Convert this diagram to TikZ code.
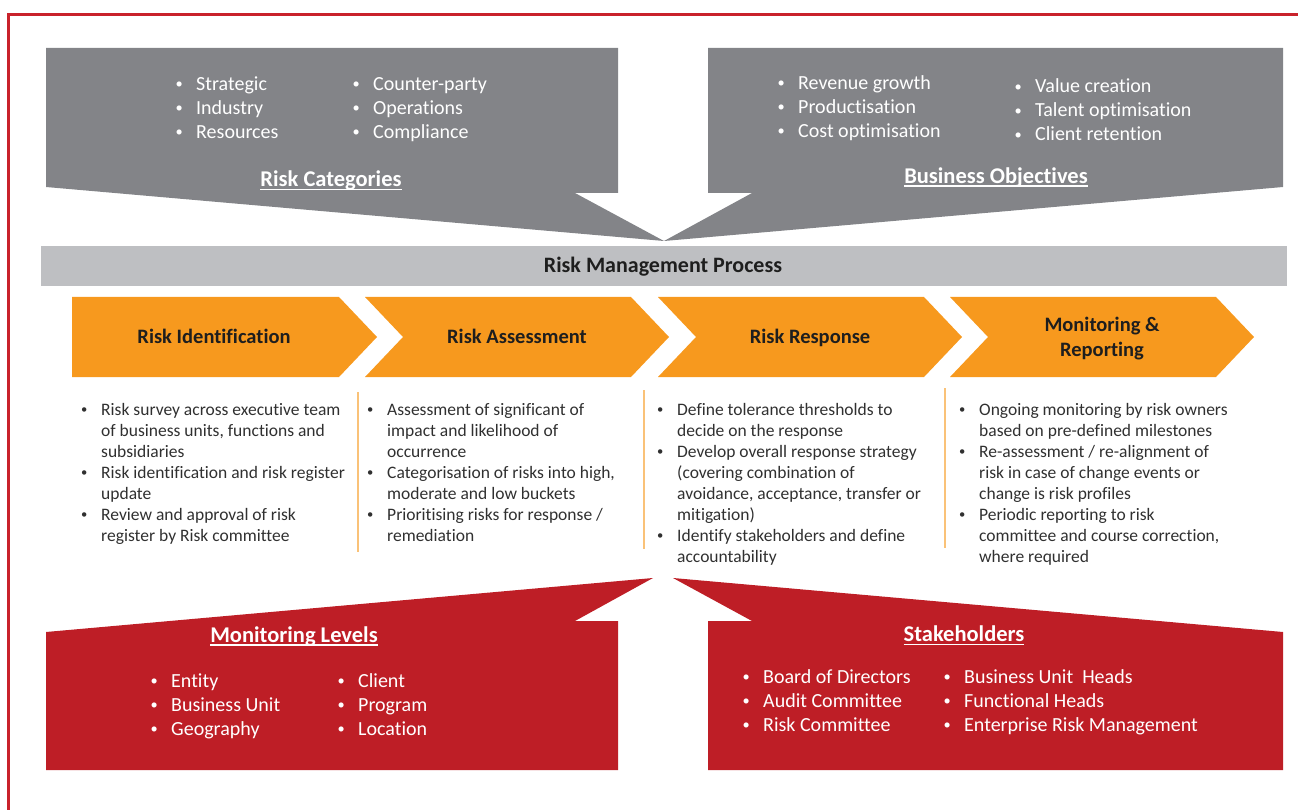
\documentclass[tikz,border=0pt]{standalone}
\usepackage{fontspec}
\setmainfont{Carlito}[Ligatures=NoCommon]
\usepackage{graphicx}
\usepackage{tikz}
\usepackage{xcolor}
\definecolor{slate}{HTML}{838488}
\definecolor{mist}{HTML}{BEBFC2}
\definecolor{tangerine}{HTML}{F7991E}
\definecolor{crimson}{HTML}{BE1E26}
\definecolor{framered}{HTML}{C9222B}
\definecolor{ink}{HTML}{1E1E1E}
\definecolor{bodyink}{HTML}{303030}
\newcommand{\dotmark}{\makebox[34pt]{\raisebox{.09em}{\scalebox{.72}{\textbullet}}}}
\newcommand{\bulletrows}[1]{\begin{tabular}[t]{@{}l@{}l@{}}#1\end{tabular}}
\newcommand{\headrule}[1]{\setbox0\hbox{#1}\rlap{\rule[-3.5pt]{\wd0}{1.6pt}}\box0}
\tikzset{greypanel/.style={fill=slate},processbar/.style={fill=mist},stepchevron/.style={fill=tangerine},redpanel/.style={fill=crimson},divider/.style={draw=tangerine!60,line width=1.6pt},steplabel/.style={font=\bfseries\fontsize{20.5}{24.5}\selectfont,text=ink,align=center,anchor=base,inner sep=0},barlabel/.style={font=\bfseries\fontsize{22}{26}\selectfont,text=ink,anchor=base,inner sep=0},panelhead/.style={font=\bfseries\fontsize{22.5}{27}\selectfont,text=white,anchor=base,inner sep=0},panellist/.style={font=\fontsize{20}{24}\selectfont,text=white,anchor=base west,inner sep=0},bodylist/.style={font=\fontsize{17.5}{21}\selectfont,text=bodyink,anchor=base west,inner sep=0}}

\begin{document}
\begin{tikzpicture}[x=1pt,y=-1pt]
\useasboundingbox (0,0) rectangle (1298,810);
\draw[framered,line width=3pt] (8,810)--(8,15)--(1298,15);
\fill[greypanel] (46,48)--(618,48)--(618,193)--(575,193)--(664,241)--(46,187)--cycle;
\fill[greypanel] (708,48)--(1283,48)--(1283,187)--(664,241)--(752,193)--(708,193)--cycle;
\node[panellist] (catsa) at (162,90.5) {\bulletrows{\dotmark&Strategic\\\dotmark&Industry\\\dotmark&Resources}};
\node[panellist] (catsb) at (339,90.5) {\bulletrows{\dotmark&Counter-party\\\dotmark&Operations\\\dotmark&Compliance}};
\node[panelhead] (catshead) at (331,186.7) {\headrule{Risk Categories}};
\node[panellist] (objsa) at (764,89.3) {\bulletrows{\dotmark&Revenue growth\\\dotmark&Productisation\\\dotmark&Cost optimisation}};
\node[panellist] (objsb) at (1001,93) {\bulletrows{\dotmark&Value creation\\\dotmark&Talent optimisation\\\dotmark&Client retention}};
\node[panelhead] (objshead) at (996,183.3) {\headrule{Business Objectives}};
\fill[processbar] (41,246) rectangle (1287,286);
\node[barlabel] (rmp) at (663,272.7) {Risk Management Process};
\fill[stepchevron] (72,297)--(339,297)--(377,337)--(339,377)--(72,377)--cycle;
\fill[stepchevron] (365,297)--(631,297)--(669,337)--(631,377)--(365,377)--(403,337)--cycle;
\fill[stepchevron] (658,297)--(924,297)--(962,337)--(924,377)--(658,377)--(696,337)--cycle;
\fill[stepchevron] (950,297)--(1216,297)--(1254,337)--(1216,377)--(950,377)--(988,337)--cycle;
\node[steplabel] (ident) at (214,343.3) {Risk Identification};
\node[steplabel] (assess) at (517,343.3) {Risk Assessment};
\node[steplabel] (respond) at (810,343.3) {Risk Response};
\node[steplabel] (monitor) at (1102,356) {Monitoring \&\\Reporting};
\node[bodylist] (identlist) at (67,415) {\bulletrows{\dotmark&Risk survey across executive team\\&of business units, functions and\\&subsidiaries\\\dotmark&Risk identification and risk register\\&update\\\dotmark&Review and approval of risk\\&register by Risk committee}};
\node[bodylist] (assesslist) at (353,415) {\bulletrows{\dotmark&Assessment of significant of\\&impact and likelihood of\\&occurrence\\\dotmark&Categorisation of risks into high,\\&moderate and low buckets\\\dotmark&Prioritising risks for response /\\&remediation}};
\node[bodylist] (respondlist) at (643,415) {\bulletrows{\dotmark&Define tolerance thresholds to\\&decide on the response\\\dotmark&Develop overall response strategy\\&(covering combination of\\&avoidance, acceptance, transfer or\\&mitigation)\\\dotmark&Identify stakeholders and define\\&accountability}};
\node[bodylist] (monitorlist) at (945,415) {\bulletrows{\dotmark&Ongoing monitoring by risk owners\\&based on pre-defined milestones\\\dotmark&Re-assessment / re-alignment of\\&risk in case of change events or\\&change is risk profiles\\\dotmark&Periodic reporting to risk\\&committee and course correction,\\&where required}};
\draw[divider] (358,392)--(358,552);
\draw[divider] (644,390)--(644,549);
\draw[divider] (945,388)--(945,548);
\fill[redpanel] (46,632)--(653,578)--(575,621)--(618,621)--(618,770)--(46,770)--cycle;
\fill[redpanel] (673,578)--(1283,632)--(1283,770)--(708,770)--(708,621)--(752,621)--cycle;
\node[panelhead] (levelshead) at (294,642) {\headrule{Monitoring Levels}};
\node[panellist] (levelsa) at (137,687.3) {\bulletrows{\dotmark&Entity\\\dotmark&Business Unit\\\dotmark&Geography}};
\node[panellist] (levelsb) at (324,687.3) {\bulletrows{\dotmark&Client\\\dotmark&Program\\\dotmark&Location}};
\node[panelhead] (stakehead) at (964,641.7) {\headrule{Stakeholders}};
\node[panellist] (stakea) at (729,683.3) {\bulletrows{\dotmark&Board of Directors\\\dotmark&Audit Committee\\\dotmark&Risk Committee}};
\node[panellist] (stakeb) at (930,683.3) {\bulletrows{\dotmark&Business Unit~ Heads\\\dotmark&Functional Heads\\\dotmark&Enterprise Risk Management}};
\end{tikzpicture}
\end{document}
